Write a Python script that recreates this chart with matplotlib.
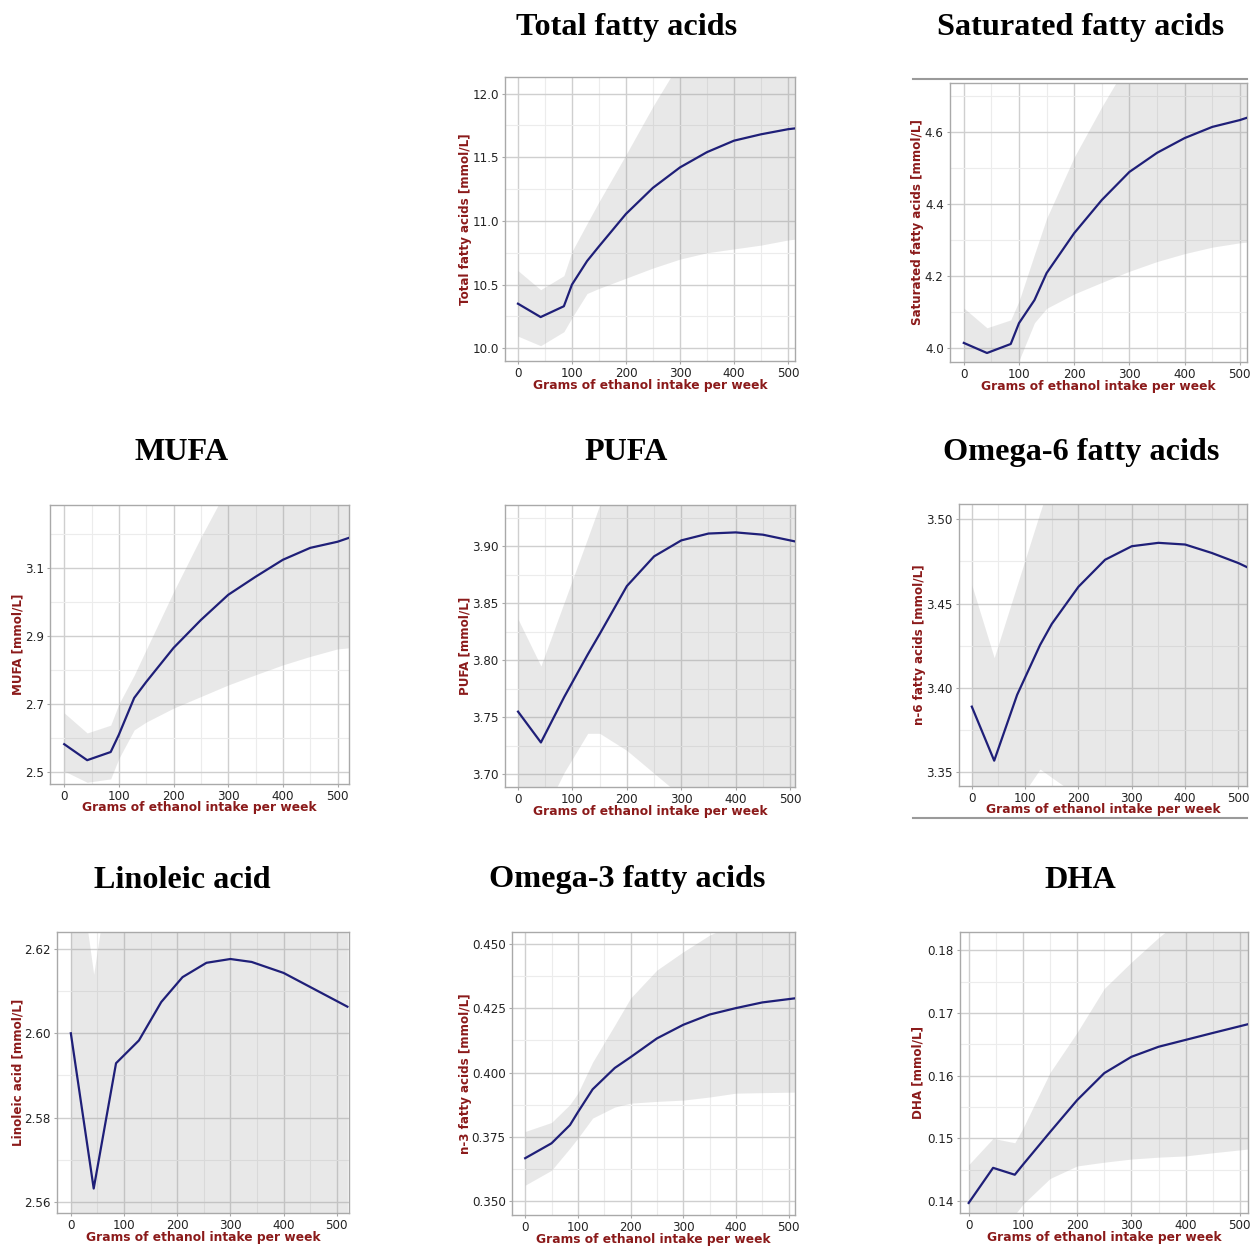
import matplotlib
matplotlib.use("Agg")
import matplotlib.pyplot as plt
from matplotlib.lines import Line2D
import numpy as np

# ---- data: ethanol intake (g/week) vs. fitted concentration with 95% band ----
x_ticks = [0, 100, 200, 300, 400, 500]
x_label = "Grams of ethanol intake per week"

tfa_x = [0, 42, 85, 100, 128, 150, 200, 250, 300, 350, 400, 450, 500, 520]
tfa_mean = [10.35, 10.245, 10.33, 10.50, 10.685, 10.80, 11.055, 11.26, 11.42, 11.54, 11.63, 11.68, 11.72, 11.73]
tfa_hi = [10.61, 10.46, 10.57, 10.76, 10.98, 11.15, 11.52, 11.90, 12.25, 12.45, 12.60, 12.70, 12.80, 12.85]
tfa_lo = [10.095, 10.02, 10.13, 10.24, 10.43, 10.47, 10.55, 10.63, 10.70, 10.75, 10.78, 10.81, 10.85, 10.86]
tfa_yticks = [10.0, 10.5, 11.0, 11.5, 12.0]

sfa_x = [0, 42, 85, 100, 128, 150, 200, 250, 300, 350, 400, 450, 500, 520]
sfa_mean = [4.014, 3.986, 4.011, 4.069, 4.133, 4.208, 4.319, 4.411, 4.489, 4.542, 4.583, 4.614, 4.633, 4.643]
sfa_hi = [4.111, 4.056, 4.078, 4.13, 4.26, 4.36, 4.53, 4.67, 4.80, 4.90, 4.98, 5.04, 5.10, 5.12]
sfa_lo = [3.92, 3.90, 3.93, 3.965, 4.07, 4.11, 4.15, 4.182, 4.213, 4.24, 4.262, 4.28, 4.292, 4.295]
sfa_yticks = [4.0, 4.2, 4.4, 4.6]

mufa_x = [0, 42, 85, 100, 128, 150, 200, 250, 300, 350, 400, 450, 500, 520]
mufa_mean = [2.582, 2.535, 2.559, 2.61, 2.718, 2.765, 2.865, 2.947, 3.021, 3.074, 3.124, 3.159, 3.177, 3.188]
mufa_hi = [2.674, 2.615, 2.638, 2.70, 2.785, 2.86, 3.03, 3.19, 3.34, 3.45, 3.53, 3.60, 3.65, 3.67]
mufa_lo = [2.503, 2.47, 2.48, 2.54, 2.624, 2.647, 2.688, 2.722, 2.756, 2.786, 2.815, 2.84, 2.862, 2.865]
mufa_yticks = [2.5, 2.7, 2.9, 3.1]

pufa_x = [0, 42, 85, 128, 150, 200, 250, 300, 350, 400, 450, 500, 520]
pufa_mean = [3.755, 3.728, 3.768, 3.805, 3.823, 3.865, 3.891, 3.905, 3.911, 3.912, 3.910, 3.905, 3.903]
pufa_hi = [3.836, 3.795, 3.851, 3.907, 3.936, 3.99, 4.03, 4.06, 4.08, 4.10, 4.12, 4.14, 4.15]
pufa_lo = [3.674, 3.661, 3.702, 3.736, 3.736, 3.721, 3.701, 3.681, 3.66, 3.64, 3.62, 3.60, 3.59]
pufa_yticks = [3.70, 3.75, 3.80, 3.85, 3.90]

n6_x = [0, 42, 85, 128, 150, 200, 250, 300, 350, 400, 450, 500, 520]
n6_mean = [3.389, 3.357, 3.396, 3.4255, 3.438, 3.46, 3.476, 3.484, 3.486, 3.485, 3.480, 3.474, 3.471]
n6_hi = [3.461, 3.418, 3.461, 3.504, 3.525, 3.56, 3.59, 3.61, 3.62, 3.63, 3.64, 3.65, 3.655]
n6_lo = [3.317, 3.296, 3.332, 3.352, 3.347, 3.336, 3.325, 3.315, 3.31, 3.305, 3.30, 3.295, 3.293]
n6_yticks = [3.35, 3.40, 3.45, 3.50]

la_x = [0, 43, 85, 128, 170, 210, 255, 300, 340, 400, 460, 520]
la_mean = [2.600, 2.5632, 2.5929, 2.5983, 2.6074, 2.6133, 2.6167, 2.6176, 2.6169, 2.6143, 2.6103, 2.6063]
la_hi = [2.653, 2.614, 2.649, 2.655, 2.66, 2.665, 2.668, 2.67, 2.672, 2.675, 2.678, 2.68]
la_lo = [2.547, 2.512, 2.537, 2.542, 2.553, 2.556, 2.555, 2.553, 2.55, 2.545, 2.538, 2.53]
la_yticks = [2.56, 2.58, 2.60, 2.62]

n3_x = [0, 50, 85, 100, 128, 170, 200, 250, 300, 350, 400, 450, 512]
n3_mean = [0.3667, 0.3725, 0.3796, 0.3846, 0.3935, 0.4018, 0.406, 0.4133, 0.4186, 0.4226, 0.4251, 0.4273, 0.4289]
n3_hi = [0.3771, 0.3806, 0.3876, 0.392, 0.4041, 0.4185, 0.429, 0.4399, 0.447, 0.4535, 0.458, 0.461, 0.465]
n3_lo = [0.3562, 0.362, 0.3706, 0.3745, 0.3823, 0.3866, 0.3881, 0.3888, 0.3893, 0.3905, 0.392, 0.3922, 0.3924]
n3_yticks = [0.350, 0.375, 0.400, 0.425, 0.450]

dha_x = [0, 45, 85, 100, 150, 200, 250, 300, 350, 400, 450, 515]
dha_mean = [0.1397, 0.1453, 0.1442, 0.1458, 0.151, 0.1561, 0.1604, 0.163, 0.1646, 0.1657, 0.1668, 0.1682]
dha_hi = [0.1458, 0.150, 0.1493, 0.1516, 0.1605, 0.1669, 0.1739, 0.1781, 0.182, 0.1855, 0.188, 0.19]
dha_lo = [0.1345, 0.1372, 0.1378, 0.1395, 0.1436, 0.1456, 0.1462, 0.1467, 0.147, 0.1472, 0.1477, 0.1483]
dha_yticks = [0.14, 0.15, 0.16, 0.17, 0.18]

# ---- figure layout (pixel boxes: left, top, right, bottom) ----
W, H = 1257, 1247
fig = plt.figure(figsize=(W / 100, H / 100), dpi=100)
fig.patch.set_facecolor("white")

LINE = "#1f1f78"
LABEL_RED = "#8b1a1a"
GRID_MAJ = "#cfcfcf"
GRID_MIN = "#ececec"
BORDER = "#a9a9a9"

panels = [
    ("Total fatty acids", "Total fatty acids [mmol/L]", tfa_x, tfa_mean, tfa_lo, tfa_hi, tfa_yticks, "%.1f",
     (505, 77, 795, 361), (-24, 513), (9.90, 12.13), 465),
    ("Saturated fatty acids", "Saturated fatty acids [mmol/L]", sfa_x, sfa_mean, sfa_lo, sfa_hi, sfa_yticks, "%.1f",
     (950, 83, 1247, 362), (-25, 513), (3.961, 4.736), 918),
    ("MUFA", "MUFA [mmol/L]", mufa_x, mufa_mean, mufa_lo, mufa_hi, mufa_yticks, "%.1f",
     (50, 505, 349, 784), (-26, 521), (2.465, 3.285), 18),
    ("PUFA", "PUFA [mmol/L]", pufa_x, pufa_mean, pufa_lo, pufa_hi, pufa_yticks, "%.2f",
     (505, 505, 795, 787), (-24, 509), (3.689, 3.936), 465),
    ("Omega-6 fatty acids", "n-6 fatty acids [mmol/L]", n6_x, n6_mean, n6_lo, n6_hi, n6_yticks, "%.2f",
     (959, 504, 1247, 786), (-24, 516), (3.342, 3.509), 920),
    ("Linoleic acid", "Linoleic acid [mmol/L]", la_x, la_mean, la_lo, la_hi, la_yticks, "%.2f",
     (57, 932, 349, 1213), (-26, 523), (2.5574, 2.624), 18),
    ("Omega-3 fatty acids", "n-3 fatty acids [mmol/L]", n3_x, n3_mean, n3_lo, n3_hi, n3_yticks, "%.3f",
     (512, 932, 795, 1215), (-25, 512), (0.3446, 0.4547), 465),
    ("DHA", "DHA [mmol/L]", dha_x, dha_mean, dha_lo, dha_hi, dha_yticks, "%.2f",
     (960, 932, 1248, 1213), (-16, 515), (0.1381, 0.1829), 918),
]

title_pos = {
    "Total fatty acids": (627, 27), "Saturated fatty acids": (1081, 27),
    "MUFA": (182, 453), "PUFA": (626, 453), "Omega-6 fatty acids": (1081, 453),
    "Linoleic acid": (182, 880), "Omega-3 fatty acids": (627, 880), "DHA": (1080, 880),
}

for (title, ylab, xs, mean, lo, hi, yticks, fmt, box, xlim, ylim, ylab_px) in panels:
    l, t, r, b = box
    ax = fig.add_axes([l / W, 1 - b / H, (r - l) / W, (b - t) / H])
    ax.set_facecolor("white")

    ax.set_xticks(x_ticks)
    ax.set_xticks([v + 50 for v in x_ticks], minor=True)
    ax.set_yticks(yticks)
    step = yticks[1] - yticks[0]
    ax.set_yticks([v + step / 2 for v in [yticks[0] - step] + list(yticks)], minor=True)
    ax.set_ylim(*ylim)
    ax.set_xlim(*xlim)
    ax.set_yticklabels([fmt % v for v in yticks])

    ax.grid(which="major", color=GRID_MAJ, lw=1.0, zorder=0)
    ax.grid(which="minor", color=GRID_MIN, lw=0.8, zorder=0)
    ax.set_axisbelow(True)

    ax.fill_between(xs, lo, hi, color="#999999", alpha=0.22, lw=0, zorder=2)
    ax.plot(xs, mean, color=LINE, lw=1.6, zorder=3)

    for s in ax.spines.values():
        s.set_color(BORDER)
        s.set_linewidth(1.0)
    ax.tick_params(which="major", length=2.5, width=0.8, color=BORDER, pad=2,
                   labelsize=8.6, labelcolor="#222222")
    ax.tick_params(which="minor", length=0)
    for lab in ax.get_xticklabels() + ax.get_yticklabels():
        lab.set_fontfamily("DejaVu Sans")

    ax.set_xlabel(x_label, color=LABEL_RED, fontsize=8.8, fontweight="bold",
                  fontfamily="DejaVu Sans", va="center")
    ax.xaxis.set_label_coords(0.5, -24 / (b - t))
    ax.set_ylabel(ylab, color=LABEL_RED, fontsize=8.6, fontweight="bold",
                  fontfamily="DejaVu Sans", va="center")
    ax.yaxis.set_label_coords((ylab_px - l) / (r - l), 0.5)

    tx, ty = title_pos[title]
    fig.text(tx / W, 1 - ty / H, title, ha="center", va="center",
             fontsize=23.2, fontweight="bold", fontfamily="Liberation Serif")

# thin separator rules in the right-hand column
fig.add_artist(Line2D([913 / W, 1247 / W], [1 - 79 / H, 1 - 79 / H], color="#9a9a9a", lw=1.5))
fig.add_artist(Line2D([913 / W, 1247 / W], [1 - 818 / H, 1 - 818 / H], color="#9a9a9a", lw=1.5))

fig.savefig("out.png", dpi=100, facecolor="white")
